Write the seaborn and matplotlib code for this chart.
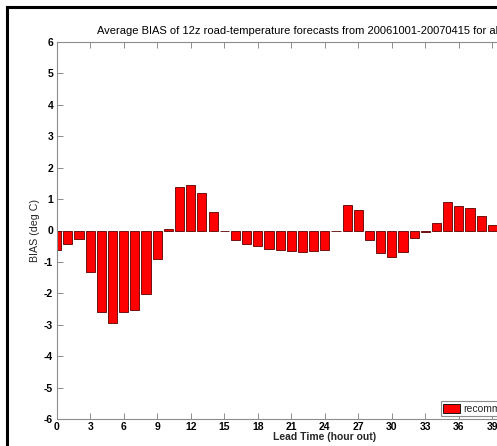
import matplotlib
matplotlib.use("Agg")
import matplotlib.pyplot as plt
from matplotlib.lines import Line2D
from matplotlib.patches import Patch
import numpy as np
import pandas as pd
import seaborn as sns

# Forecast lead time (hours) and mean road-temperature bias (deg C)
lead_hours = list(range(0, 40))
bias = [-0.62, -0.44, -0.27, -1.32, -2.58, -2.94, -2.58, -2.54, -2.01, -0.92,
        0.06, 1.37, 1.44, 1.20, 0.59, -0.02, -0.30, -0.42, -0.49, -0.58,
        -0.62, -0.66, -0.70, -0.66, -0.62, -0.03, 0.81, 0.65, -0.30, -0.71,
        -0.83, -0.68, -0.23, -0.06, 0.25, 0.90, 0.79, 0.73, 0.46, 0.19]
x_ticks = list(range(0, 49, 3))
y_ticks = list(range(-6, 7))
series_label = "recommended"
title_text = "Average BIAS of 12z road-temperature forecasts from 20061001-20070415 for all"

df = pd.DataFrame({"hour": lead_hours, "bias": bias})

sns.set_style("white")
plt.rcParams["font.family"] = ["Liberation Sans", "DejaVu Sans"]

W, H = 497, 446
fig = plt.figure(figsize=(W / 100, H / 100), dpi=100)
fig.patch.set_facecolor("white")

# axes span 0..48 h; the right part runs past the figure edge
ax_left, ax_right = 56.7, 56.7 + 48 * 11.17
ax_top, ax_bottom = 42.0, 419.0
ax = fig.add_axes([ax_left / W, (H - ax_bottom) / H,
                   (ax_right - ax_left) / W, (ax_bottom - ax_top) / H])

sns.barplot(data=df, x="hour", y="bias", native_scale=True, width=0.82,
            color="red", saturation=1, edgecolor="#5a0000", linewidth=0.6,
            errorbar=None, ax=ax)

ax.set_xlim(0, 48)
ax.set_ylim(-6, 6)
ax.set_xticks(x_ticks)
ax.set_yticks(y_ticks)
ax.set_xticklabels([str(t) for t in x_ticks], fontsize=7.5, fontweight="bold")
ax.set_yticklabels([str(t) for t in y_ticks], fontsize=7.5, fontweight="bold")

for side in ["left", "right", "top", "bottom"]:
    ax.spines[side].set_visible(True)
    ax.spines[side].set_color("#8c8c8c")
    ax.spines[side].set_linewidth(0.8)
ax.tick_params(axis="both", direction="in", length=4, width=0.7,
               color="#8c8c8c", top=True, right=True, bottom=True, left=True,
               labelcolor="black", pad=2.5)

ax.set_xlabel("Lead Time (hour out)", fontsize=7.5, fontweight="bold")
ax.set_ylabel("BIAS (deg C)", fontsize=7.7)
ax.xaxis.set_label_coords((324.5 - ax_left) / (ax_right - ax_left),
                          -(437 - ax_bottom) / (ax_bottom - ax_top))
ax.yaxis.set_label_coords(-(ax_left - 35.5) / (ax_right - ax_left), 0.5)
ax.xaxis.label.set_va("center")
ax.yaxis.label.set_va("center")

fig.text(97 / W, (H - 33.5) / H, title_text, fontsize=8, ha="left",
         va="baseline", color="black")

handle = Patch(facecolor="red", edgecolor="black", linewidth=0.6)
leg = ax.legend([handle], [series_label], loc="lower left",
                bbox_to_anchor=(441 / W, (H - 416) / H),
                bbox_transform=fig.transFigure, fontsize=7.5,
                handlelength=1.63, handleheight=0.95, handletextpad=0.25,
                borderpad=0.22, borderaxespad=0, fancybox=False,
                framealpha=1, edgecolor="#8c8c8c")
leg.get_frame().set_linewidth(0.8)

# frame lines along the left and top edges
fig.add_artist(Line2D([7 / W, 7 / W], [0, (H - 7) / H], transform=fig.transFigure,
                      color="black", lw=2.2, solid_capstyle="projecting"))
fig.add_artist(Line2D([7 / W, 1], [(H - 7) / H, (H - 7) / H],
                      transform=fig.transFigure, color="black", lw=2.2,
                      solid_capstyle="projecting"))

fig.savefig("out.png", dpi=100)
